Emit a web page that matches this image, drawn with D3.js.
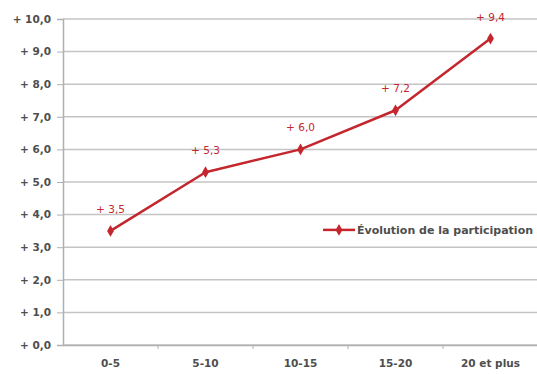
<!DOCTYPE html>
<html>
<head>
<meta charset="utf-8">
<script src="https://cdn.jsdelivr.net/npm/d3@7"></script>
<style>
  body { margin: 0; background: #fff; }
</style>
</head>
<body>
<svg id="chart" width="537" height="374" style="display:block"></svg>
<script>
// Anciennetés et évolution de la participation
const categories = ["0-5", "5-10", "10-15", "15-20", "20 et plus"];
const values = [3.5, 5.3, 6.0, 7.2, 9.4];
const yTicks = [0, 1, 2, 3, 4, 5, 6, 7, 8, 9, 10];
const seriesName = "Évolution de la participation";

const font = "'DejaVu Sans', Verdana, sans-serif";
const svg = d3.select("#chart").attr("font-family", font);
const margin = { left: 63, right: -1, top: 19, bottom: 29 };
const W = 537, H = 374;
const red = "#c4262e";
const textColor = "#4e4e4e";

const x = d3.scaleBand().domain(categories).range([margin.left, W - margin.right]);
const y = d3.scaleLinear().domain([0, 10]).range([H - margin.bottom, margin.top]);

const fmt = v => "+ " + d3.format(".1f")(v).replace(".", ",");

// grid lines
svg.append("g").selectAll("line").data(yTicks).join("line")
  .attr("x1", margin.left).attr("x2", W)
  .attr("y1", d => y(d)).attr("y2", d => y(d))
  .attr("stroke", "#c4c4c4").attr("stroke-width", 1.5);

// y axis
const yAxis = svg.append("g")
  .attr("transform", `translate(${margin.left},0)`)
  .call(d3.axisLeft(y).tickValues(yTicks).tickFormat(fmt).tickSize(6).tickPadding(6));
yAxis.select(".domain").attr("stroke", "#b0b0b0").attr("stroke-width", 1.5);
yAxis.selectAll(".tick line").attr("stroke", "#b0b0b0");
yAxis.selectAll("text")
  .attr("font-family", font)
  .attr("font-size", 10.5).attr("font-weight", "bold").attr("fill", textColor);

// x axis
const xAxis = svg.append("g")
  .attr("transform", `translate(0,${y(0)})`)
  .call(d3.axisBottom(x).tickSize(0).tickPadding(15));
xAxis.select(".domain").attr("stroke", "#b0b0b0").attr("stroke-width", 1.5);
xAxis.selectAll("text")
  .attr("font-family", font)
  .attr("font-size", 10.5).attr("font-weight", "bold").attr("fill", textColor);
// ticks at category boundaries
svg.append("g").selectAll("line").data(categories.slice(1)).join("line")
  .attr("x1", d => x(d)).attr("x2", d => x(d))
  .attr("y1", y(0)).attr("y2", y(0) + 4)
  .attr("stroke", "#b0b0b0");

// series line
const cx = d => x(d) + x.bandwidth() / 2;
svg.append("path")
  .datum(values)
  .attr("fill", "none")
  .attr("stroke", red)
  .attr("stroke-width", 2.5)
  .attr("stroke-linejoin", "round")
  .attr("d", d3.line().x((d, i) => cx(categories[i])).y(d => y(d)));

// markers
const diamond = d3.symbol().type(d3.symbolDiamond).size(40);
svg.append("g").selectAll("path").data(values).join("path")
  .attr("d", diamond)
  .attr("transform", (d, i) => `translate(${cx(categories[i])},${y(d)})`)
  .attr("fill", red);

// data labels
svg.append("g").selectAll("text").data(values).join("text")
  .attr("x", (d, i) => cx(categories[i]))
  .attr("y", d => y(d) - 18)
  .attr("text-anchor", "middle")
  .attr("font-size", 10.5)
  .attr("fill", red)
  .text(fmt);

// legend
const ly = y(3.5) - 1;
const lg = svg.append("g");
lg.append("line").attr("x1", 323).attr("x2", 355).attr("y1", ly).attr("y2", ly)
  .attr("stroke", red).attr("stroke-width", 2.5);
lg.append("path").attr("d", diamond).attr("transform", `translate(339,${ly})`).attr("fill", red);
lg.append("text").attr("x", 357).attr("y", ly + 4)
  .attr("font-size", 11).attr("font-weight", "bold").attr("fill", textColor).text(seriesName);
</script>
</body>
</html>
